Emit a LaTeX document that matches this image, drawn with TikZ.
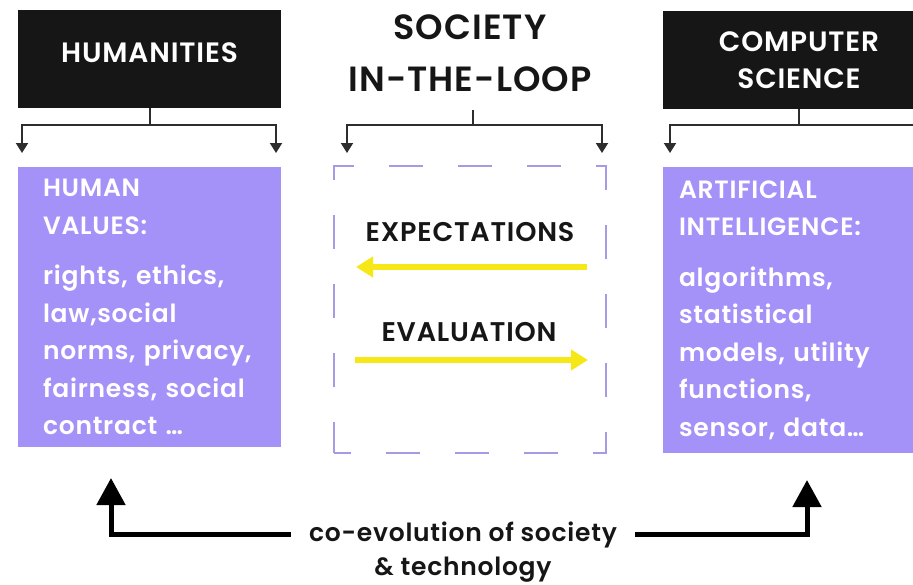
\documentclass[tikz,border=0pt]{standalone}
\usepackage{fontspec}
\setmainfont{Poppins}[BoldFont={Poppins SemiBold},LetterSpace=3]
\usetikzlibrary{arrows.meta,positioning}

\definecolor{boxblack}{RGB}{22,22,22}
\definecolor{valuepurple}{RGB}{165,146,248}
\definecolor{loopdash}{RGB}{165,155,228}
\definecolor{treegray}{RGB}{45,45,45}
\definecolor{loopyellow}{RGB}{246,232,22}

\tikzset{
  field/.style={fill=boxblack, text=white, align=center, inner sep=0pt,
    font=\bfseries\fontsize{28}{37}\selectfont, minimum height=98pt},
  valuebox/.style={fill=valuepurple, text=white, align=left, inner ysep=0pt,
    font=\bfseries\fontsize{25}{37.5}\selectfont},
  loopbox/.style={draw=loopdash, line width=2.5pt, dash pattern=on 34pt off 35pt,
    dash phase=17pt, minimum width=272pt, minimum height=287pt, inner sep=0pt},
  tree/.style={draw=treegray, line width=2pt, -{Triangle[width=12pt,length=10pt]}},
  feedback/.style={draw=loopyellow, line width=6pt, -{Triangle[width=20pt,length=17pt]}},
  coevo/.style={draw=black, line width=5pt, -{Triangle[width=28pt,length=27pt]}},
  label/.style={font=\bfseries\fontsize{27}{34}\selectfont, text=boxblack},
}

\begin{document}
\begin{tikzpicture}[x=1pt,y=-1pt]
	\useasboundingbox[fill=white] (0,0) rectangle (913,584);
	\clip (0,0) rectangle (913,584);
	% fields
	\node[field,minimum width=263pt,text depth=12pt] (hum) at (149.5,59) {HUMANITIES};
	\node[label,align=center,inner sep=0pt,font=\bfseries\fontsize{35}{52}\selectfont] (soc) at (470,53.5) {SOCIETY\\IN-THE-LOOP};
	\node[field,minimum width=272pt] (cs) at (799,60) {COMPUTER\\SCIENCE};
	% content boxes
	\node[valuebox,minimum width=263pt,minimum height=280pt,inner xsep=25pt,text width=213pt] (hv) at (149.5,307)
		{HUMAN\\VALUES:\\[13pt]rights, ethics,\\law,social\\norms, privacy,\\fairness, social\\contract \dots};
	\node[loopbox] (loop) at (470,309.5) {};
	\node[valuebox,minimum width=272pt,minimum height=286pt,inner xsep=16pt,text width=240pt] (ai) at (799,310)
		{ARTIFICIAL\\INTELLIGENCE:\\[13pt]algorithms,\\statistical\\models, utility\\functions,\\sensor, data\dots};
	% branch ends
	\coordinate (hl) at (22,153);
	\coordinate (hr) at (276,153);
	\coordinate (sl) at (347,153);
	\coordinate (sr) at (602,153);
	\coordinate (cl) at (670,153);
	\coordinate (cr) at (929,153);
	\draw[tree] (hum.south) -- ++(0,17) -| (hl);
	\draw[tree] (hum.south) -- ++(0,17) -| (hr);
	\draw[tree] ([xshift=3pt,yshift=-18pt]soc.south) -- ++(0,15) -| (sl);
	\draw[tree] ([xshift=3pt,yshift=-18pt]soc.south) -- ++(0,15) -| (sr);
	\draw[tree] (cs.south) -- ++(0,16) -| (cl);
	\draw[tree] (cs.south) -- ++(0,16) -| (cr);
	% loop
	\node[label] (exp) at (470,232) {EXPECTATIONS};
	\node[label] (eval) at (469,332) {EVALUATION};
	\coordinate (expfrom) at (587,267);
	\coordinate (expto) at (356,267);
	\coordinate (evalfrom) at (355,360);
	\coordinate (evalto) at (588,360);
	\draw[feedback] (expfrom) -- (expto);
	\draw[feedback] (evalfrom) -- (evalto);
	% co-evolution
	\node[label,font=\bfseries\fontsize{25}{34}\selectfont,anchor=base,inner xsep=18pt] (co) at (463,541) {co-evolution of society};
	\node[label,font=\bfseries\fontsize{25}{34}\selectfont,anchor=base] (tech) at (463,575) {\& technology};
	\coordinate (hvup) at (111,478);
	\coordinate (aiup) at (807,480);
	\draw[coevo] (co.west) -| (hvup);
	\draw[coevo] (co.east) -| (aiup);
\end{tikzpicture}
\end{document}
